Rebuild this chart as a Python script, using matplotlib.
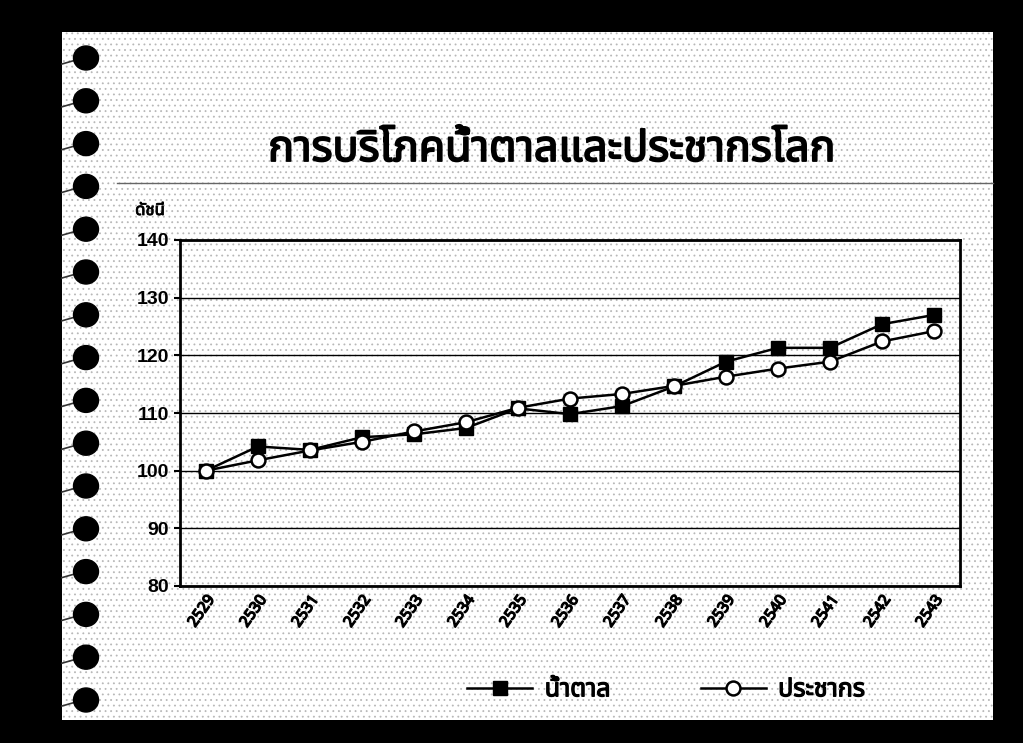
import matplotlib
matplotlib.use("Agg")
import matplotlib.pyplot as plt
import matplotlib.font_manager as fm
import matplotlib.patheffects as pe
from matplotlib.ft2font import FT2Font
from matplotlib.patches import Rectangle, Ellipse
from matplotlib.lines import Line2D

# data (index, base year 2529 = 100)
years = ["2529", "2530", "2531", "2532", "2533", "2534", "2535", "2536",
         "2537", "2538", "2539", "2540", "2541", "2542", "2543"]
sugar = [100.0, 104.2, 103.6, 105.8, 106.3, 107.4, 110.8, 109.8,
         111.2, 114.6, 118.9, 121.3, 121.3, 125.4, 127.0]
population = [100.0, 101.8, 103.5, 105.0, 106.8, 108.4, 110.9, 112.5,
              113.3, 114.7, 116.3, 117.7, 118.9, 122.4, 124.2]

TITLE = "การบริโภคน้ำตาลและประชากรโลก"
Y_LABEL = "ดัชนี"
SERIES_NAMES = ["น้ำตาล", "ประชากร"]

W, H = 1023, 743


def fx(px):
    return px / W


def fy(py):
    return 1 - py / H


def find_thai_font() -> str | None:
    """Pick any installed family that has Thai glyphs."""
    preferred = ["Noto Sans Thai", "Noto Serif Thai", "Loma", "Garuda",
                 "Norasi", "Tlwg Typo", "Kinnari", "Sarabun", "Noto Sans"]
    found = {}
    for entry in fm.fontManager.ttflist:
        try:
            cmap = FT2Font(entry.fname).get_charmap()
        except Exception:
            continue
        if 0x0E01 in cmap and 0x0E33 in cmap:
            found.setdefault(entry.name, entry.fname)
    for name in preferred:
        if name in found:
            return name
    return next(iter(found), None)


thai = find_thai_font()
families = ([thai] if thai else []) + ["Liberation Sans", "DejaVu Sans"]


def heavy(width):
    # the Thai face may have no bold cut, so thicken the strokes
    return [pe.withStroke(linewidth=width, foreground="black")]


plt.rcParams["hatch.color"] = "#b8b8b8"
plt.rcParams["hatch.linewidth"] = 0.6
fig = plt.figure(figsize=(W / 100, H / 100), dpi=100, facecolor="black")

# white stippled page behind everything
page = Rectangle((fx(62), fy(720)), fx(993 - 62), (720 - 32) / H,
                 transform=fig.transFigure, facecolor="white", edgecolor="#b8b8b8",
                 hatch="...", linewidth=0, zorder=-5)
fig.patches.append(page)

# spiral binding
for i in range(16):
    cy = 58 + i * 42.8
    fig.patches.append(Ellipse((fx(86), fy(cy)), fx(25), 24 / H, transform=fig.transFigure,
                               facecolor="black", edgecolor="black", zorder=-1))
    fig.lines.append(Line2D([fx(62), fx(76)], [fy(cy + 6), fy(cy + 2)],
                            transform=fig.transFigure, color="#333333", lw=1.2, zorder=-1))

# title and separator
fig.text(fx(552), fy(150), TITLE, ha="center", va="center",
         fontsize=31, fontweight="bold", family=families, path_effects=heavy(1.3))
fig.lines.append(Line2D([fx(117), fx(993)], [fy(183)] * 2,
                        transform=fig.transFigure, color="#666666", lw=1.0, zorder=-1))

ax = fig.add_axes([fx(180), fy(586), fx(780), 346 / H])
ax.patch.set_alpha(0)
x = list(range(len(years)))
ax.plot(x, sugar, color="black", lw=1.8, marker="s", markersize=10,
        markerfacecolor="black", markeredgecolor="black", label=SERIES_NAMES[0], zorder=4)
ax.plot(x, population, color="black", lw=1.8, marker="o", markersize=10,
        markerfacecolor="white", markeredgecolor="black", markeredgewidth=1.8,
        label=SERIES_NAMES[1], zorder=5)

ax.set_xlim(-0.5, len(years) - 0.5)
ax.set_ylim(80, 140)
ax.set_yticks(range(80, 141, 10))
ax.yaxis.grid(True, color="black", lw=1.0)
ax.set_axisbelow(True)
for side in ax.spines.values():
    side.set_linewidth(2)
ax.set_xticks(x)
ax.set_xticklabels(years, rotation=55, ha="right", rotation_mode="anchor",
                   fontsize=11, fontweight="bold", family=families)
for lab in ax.get_xticklabels():
    lab.set_path_effects(heavy(1.0))
ax.tick_params(axis="x", length=0, pad=5)
ax.tick_params(axis="y", length=4, width=1.5, pad=4)
for lab in ax.get_yticklabels():
    lab.set_fontsize(14)
    lab.set_fontweight("bold")
    lab.set_family(["Liberation Sans", "DejaVu Sans"])

fig.text(fx(150), fy(211), Y_LABEL, ha="center", va="center",
         fontsize=12, fontweight="bold", family=families, path_effects=heavy(0.6))

leg = ax.legend(loc="center", bbox_to_anchor=((666 - 180) / 780, -0.30), ncol=2,
                frameon=False, prop={"family": families, "size": 18, "weight": "bold"},
                handlelength=2.6, columnspacing=3.6, handletextpad=0.5)
for txt in leg.get_texts():
    txt.set_path_effects(heavy(0.9))

fig.savefig("out.png", dpi=100, facecolor="black")
